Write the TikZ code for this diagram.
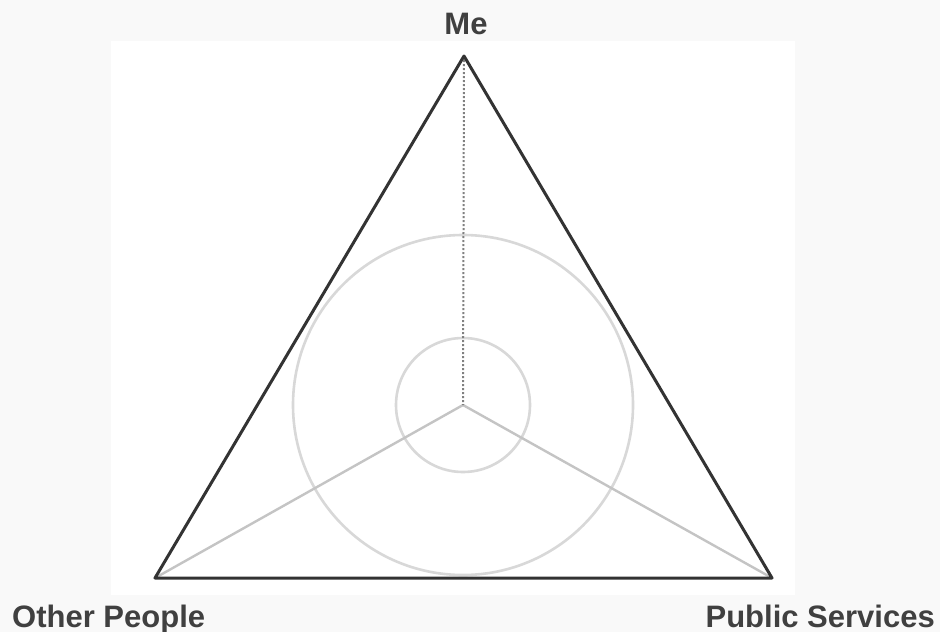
\documentclass[tikz,border=0pt]{standalone}
\usepackage{fontspec}
\setmainfont{Liberation Sans}
\definecolor{bgouter}{HTML}{F9F9F9}
\definecolor{txt}{HTML}{404040}
\definecolor{edge}{HTML}{333333}
\definecolor{spoke}{HTML}{C4C4C4}
\definecolor{ring}{HTML}{D8D8D8}
\definecolor{dotc}{HTML}{808080}
\tikzset{
  lbl/.style={text=txt, font=\fontsize{31}{37}\selectfont\bfseries, inner sep=0pt, anchor=base},
  triedge/.style={draw=edge, line width=3pt, line join=round},
  spokeline/.style={draw=spoke, line width=2.4pt},
  dotline/.style={draw=dotc, line width=2pt, dash pattern=on 2pt off 2pt},
  ringline/.style={draw=ring, line width=2.6pt}
}
\begin{document}
\begin{tikzpicture}[x=1pt, y=-1pt]
\useasboundingbox (0,0) rectangle (940,632);
\fill[bgouter] (0,0) rectangle (940,632);
\fill[white] (111,41) rectangle (795,595);
\coordinate (A) at (464,56);
\coordinate (B) at (155,578);
\coordinate (C) at (772,578);
\coordinate (O) at (463,405);
\draw[ringline] (O) circle[radius=170];
\draw[ringline] (O) circle[radius=67];
\draw[spokeline] (O) -- (B);
\draw[spokeline] (O) -- (C);
\draw[dotline] (A) -- (O);
\draw[triedge] (A) -- (B) -- (C) -- cycle;
\node[lbl] (me) at (466,34) {Me};
\node[lbl, anchor=base west] (other) at (12,627) {Other People};
\node[lbl, anchor=base east] (public) at (935,627) {Public Services};
\end{tikzpicture}
\end{document}
